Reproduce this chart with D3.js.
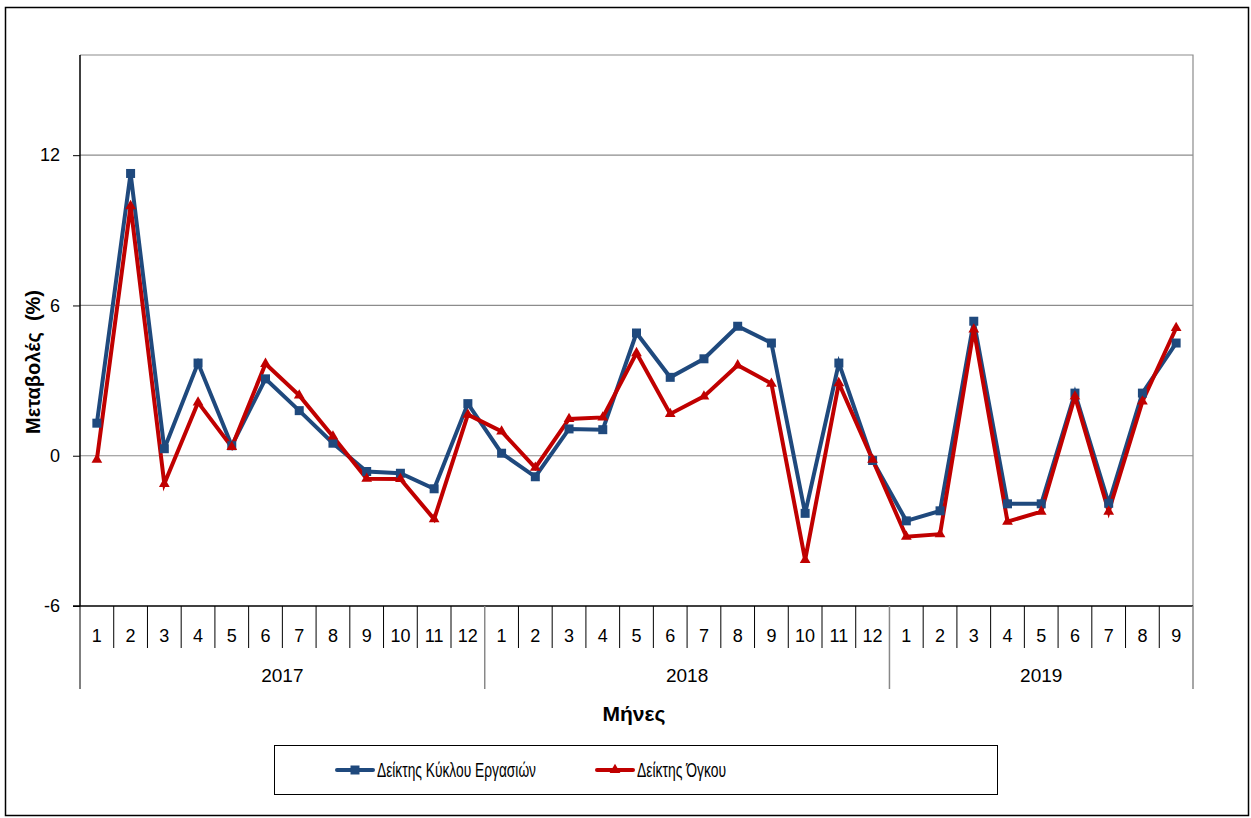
<!DOCTYPE html>
<html lang="el">
<head>
<meta charset="UTF-8">
<title>Δείκτες</title>
<script src="https://d3js.org/d3.v7.min.js"></script>
<style>
  body { margin: 0; background: #fff; }
  text { font-family: "Liberation Sans", "Noto Sans", sans-serif; fill: #000; }
</style>
</head>
<body>
<div id="chart"></div>
<script>
// data
const years = ["2017", "2018", "2019"];
const monthsPerYear = [12, 12, 9];
const turnover = [1.3, 11.27, 0.28, 3.7, 0.4, 3.07, 1.8, 0.5, -0.63, -0.7, -1.32, 2.08,
                  0.1, -0.84, 1.07, 1.04, 4.9, 3.13, 3.87, 5.17, 4.5, -2.3, 3.7, -0.19,
                  -2.6, -2.2, 5.37, -1.92, -1.92, 2.5, -1.9, 2.5, 4.5];
const volume = [-0.16, 9.97, -1.12, 2.13, 0.35, 3.67, 2.41, 0.77, -0.92, -0.93, -2.53, 1.64,
                0.97, -0.48, 1.47, 1.53, 4.1, 1.67, 2.37, 3.61, 2.88, -4.16, 2.9, -0.16,
                -3.23, -3.13, 5.04, -2.63, -2.23, 2.37, -2.23, 2.17, 5.1];
const yTicks = [-6, 0, 6, 12];
const seriesNames = ["Δείκτης Κύκλου Εργασιών", "Δείκτης Όγκου"];

const W = 1251, H = 818;
const plot = { left: 80, top: 55, right: 1193, bottom: 606 };

const categories = [];
years.forEach((y, yi) => {
  for (let m = 1; m <= monthsPerYear[yi]; m++) categories.push({ key: y + "-" + m, month: m, year: y });
});

const svg = d3.select("#chart").append("svg")
  .attr("width", W).attr("height", H);

// outer frame
svg.append("rect").attr("x", 5.5).attr("y", 7.5).attr("width", 1243).attr("height", 808)
  .attr("fill", "none").attr("stroke", "#000").attr("stroke-width", 1.5);

const x = d3.scaleBand().domain(categories.map(d => d.key))
  .range([plot.left, plot.right]).paddingInner(0).paddingOuter(0);
const y = d3.scaleLinear().domain([-6, 16]).range([plot.bottom, plot.top]);

// plot frame (top/right in grey)
svg.append("path")
  .attr("d", `M${plot.left},${plot.top}H${plot.right}V${plot.bottom}`)
  .attr("fill", "none").attr("stroke", "#8c8c8c").attr("stroke-width", 1.2);

// gridlines
svg.append("g").selectAll("line").data(yTicks.filter(t => t !== -6)).join("line")
  .attr("x1", plot.left).attr("x2", plot.right)
  .attr("y1", d => y(d)).attr("y2", d => y(d))
  .attr("stroke", "#8c8c8c").attr("stroke-width", 1.2);

// y axis
const yAxis = svg.append("g").attr("transform", `translate(${plot.left},0)`)
  .call(d3.axisLeft(y).tickValues(yTicks).tickSize(7).tickPadding(13).tickFormat(d => String(d)));
yAxis.select(".domain").attr("stroke", "#000").attr("stroke-width", 1.5)
  .attr("d", `M0,${plot.top}V${plot.bottom}`);
yAxis.selectAll(".tick line").attr("stroke", "#000");
yAxis.selectAll(".tick text").style("font-size", "18px").attr("fill", "#000")
  .style("font-family", "Liberation Sans, sans-serif");

// x axis base line
svg.append("line").attr("x1", plot.left - 7).attr("x2", plot.right)
  .attr("y1", plot.bottom).attr("y2", plot.bottom)
  .attr("stroke", "#000").attr("stroke-width", 1.5);

// month separators
const catG = svg.append("g");
categories.forEach((c, i) => {
  const x0 = x(c.key);
  const isYearStart = c.month === 1;
  catG.append("line").attr("x1", x0).attr("x2", x0)
    .attr("y1", plot.bottom).attr("y2", isYearStart ? 689 : 648)
    .attr("stroke", i === 0 ? "#000" : (isYearStart ? "#888" : "#000"))
    .attr("stroke-width", isYearStart && i > 0 ? 1.5 : 1);
  catG.append("text").attr("x", x0 + x.bandwidth() / 2).attr("y", 642)
    .attr("text-anchor", "middle").style("font-size", "18px").text(c.month);
});
catG.append("line").attr("x1", plot.right).attr("x2", plot.right)
  .attr("y1", plot.bottom).attr("y2", 689).attr("stroke", "#888").attr("stroke-width", 1.5);

// year labels
let idx = 0;
years.forEach((yr, yi) => {
  const first = categories[idx].key;
  const last = categories[idx + monthsPerYear[yi] - 1].key;
  const cx = (x(first) + x(last) + x.bandwidth()) / 2;
  catG.append("text").attr("x", cx).attr("y", 682)
    .attr("text-anchor", "middle").style("font-size", "19px").text(yr);
  idx += monthsPerYear[yi];
});

// axis titles
svg.append("text").attr("transform", `translate(40,362) rotate(-90)`)
  .attr("text-anchor", "middle").style("font-size", "20px").style("font-weight", "bold")
  .style("white-space", "pre").text("Μεταβολές  (%)");
svg.append("text").attr("x", 634).attr("y", 721)
  .attr("text-anchor", "middle").style("font-size", "21px").style("font-weight", "bold")
  .text("Μήνες");

// series
const cx = (i) => x(categories[i].key) + x.bandwidth() / 2;
const line = d3.line().x((d, i) => cx(i)).y(d => y(d));

svg.append("path").datum(turnover).attr("d", line)
  .attr("fill", "none").attr("stroke", "#1f497d").attr("stroke-width", 4).attr("stroke-linejoin", "miter");
svg.append("path").datum(volume).attr("d", line)
  .attr("fill", "none").attr("stroke", "#c00000").attr("stroke-width", 4).attr("stroke-linejoin", "miter");

const sq = d3.symbol().type(d3.symbolSquare).size(81);
const tri = d3.symbol().type(d3.symbolTriangle).size(50);
svg.append("g").selectAll("path").data(turnover).join("path")
  .attr("d", sq).attr("transform", (d, i) => `translate(${cx(i)},${y(d)})`).attr("fill", "#1f497d");
svg.append("g").selectAll("path").data(volume).join("path")
  .attr("d", tri).attr("transform", (d, i) => `translate(${cx(i)},${y(d)})`).attr("fill", "#c00000");

// legend
const lg = svg.append("g");
lg.append("rect").attr("x", 274.5).attr("y", 745.5).attr("width", 723).attr("height", 49)
  .attr("fill", "#fff").attr("stroke", "#000").attr("stroke-width", 1);
const legendItems = [
  { name: seriesNames[0], color: "#1f497d", sym: sq, x0: 337, w: 159 },
  { name: seriesNames[1], color: "#c00000", sym: tri, x0: 597, w: 89 }
];
legendItems.forEach(it => {
  lg.append("line").attr("x1", it.x0).attr("x2", it.x0 + 36).attr("y1", 770).attr("y2", 770)
    .attr("stroke", it.color).attr("stroke-width", 4).attr("stroke-linecap", "round");
  lg.append("path").attr("d", it.sym).attr("transform", `translate(${it.x0 + 18},770)`).attr("fill", it.color);
  lg.append("text").attr("x", it.x0 + 40).attr("y", 777)
    .attr("textLength", it.w).attr("lengthAdjust", "spacingAndGlyphs")
    .style("font-size", "20px").text(it.name);
});
</script>
</body>
</html>
